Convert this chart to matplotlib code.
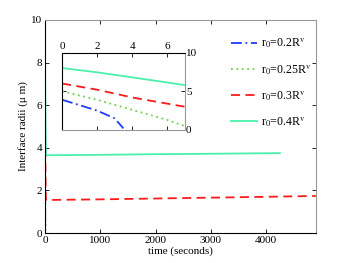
import matplotlib
matplotlib.use("Agg")
import matplotlib.pyplot as plt

plt.rcParams['font.family'] = ['Liberation Serif', 'DejaVu Serif']
plt.rcParams['mathtext.fontset'] = 'stix'

# Data (time in seconds, radius in micrometres)
blue_t = [0, 1, 2, 3, 3.5]
blue_r = [3.9, 3.2, 2.5, 1.5, 0.2]
green_t = [0, 2, 4, 6, 7, 7.6]
green_r = [5.0, 3.9, 2.6, 1.3, 0.5, 0.0]
red_t = [0, 2, 4, 6, 7, 15, 1000, 2000, 3000, 4000, 4900]
red_r = [6.0, 5.2, 4.2, 3.4, 3.0, 1.55, 1.58, 1.62, 1.66, 1.70, 1.74]
cyan_t = [0, 2, 4, 7, 15, 1000, 2000, 3000, 4250]
cyan_r = [8.0, 7.45, 6.8, 5.8, 3.65, 3.67, 3.70, 3.72, 3.75]

labels = [r'r$_0$=0.2R$^{\rm v}$', r'r$_0$=0.25R$^{\rm v}$',
          r'r$_0$=0.3R$^{\rm v}$', r'r$_0$=0.4R$^{\rm v}$']
main_xticks = [0, 1000, 2000, 3000, 4000]
main_yticks = [0, 2, 4, 6, 8, 10]
inset_xticks = [0, 2, 4, 6]
inset_yticks = [0, 5, 10]

c_blue = '#1f3cff'
c_green = '#6fcf4f'
c_red = '#ff1a1a'
c_cyan = '#4cf0aa'

fig = plt.figure(figsize=(3.49, 2.63), dpi=100)
ax = fig.add_axes([0.129, 0.114, 0.776, 0.810])

series = [
    (blue_t, blue_r, c_blue, (0, (6, 2, 1, 2))),
    (green_t, green_r, c_green, (0, (1, 2))),
    (red_t, red_r, c_red, (0, (5, 3))),
    (cyan_t, cyan_r, c_cyan, '-'),
]
for (t, r, c, ls), lab in zip(series, labels):
    ax.plot(t, r, color=c, linestyle=ls, lw=1.3, label=lab)

ax.set_xlim(0, 4900)
ax.set_ylim(0, 10)
ax.set_xticks(main_xticks)
ax.set_yticks(main_yticks)
ax.tick_params(direction='in', top=True, right=True, labelsize=8, length=3, width=0.6, pad=2)
for s in ['top', 'right']:
    ax.spines[s].set_color('#999999')
for s in ax.spines.values():
    s.set_linewidth(0.8)
ax.set_xlabel('time (seconds)', fontsize=8, labelpad=1)
ax.set_ylabel('Interface radii (μ m)', fontsize=8, labelpad=2)

leg = ax.legend(loc='upper right', bbox_to_anchor=(1.01, 0.955), frameon=False, fontsize=8.6,
                handlelength=2.2, labelspacing=1.05, handletextpad=0.3, borderaxespad=0.2)

# inset
ins = fig.add_axes([0.178, 0.506, 0.351, 0.294])
for (t, r, c, ls) in series:
    ins.plot(t, r, color=c, linestyle=ls, lw=1.3)
ins.set_xlim(0, 7)
ins.set_ylim(0, 10)
ins.set_xticks(inset_xticks)
ins.set_yticks(inset_yticks)
ins.xaxis.tick_top()
ins.yaxis.tick_right()
ins.tick_params(direction='in', top=True, bottom=True, left=True, right=True,
                labelsize=8, length=3, width=0.6, pad=1)
for s in ['bottom', 'right']:
    ins.spines[s].set_color('#999999')
for s in ins.spines.values():
    s.set_linewidth(0.8)

fig.savefig('out.png', dpi=100)
